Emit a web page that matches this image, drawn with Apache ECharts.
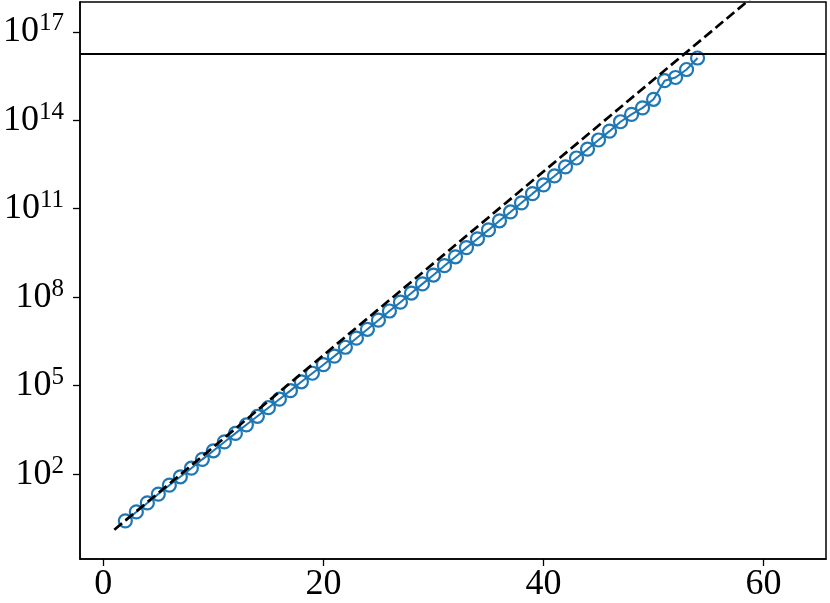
<!DOCTYPE html>
<html>
<head>
<meta charset="utf-8">
<script src="https://cdn.jsdelivr.net/npm/echarts@6/dist/echarts.min.js"></script>
<style>
html,body{margin:0;padding:0;background:#fff;}
#chart{width:830px;height:603px;}
</style>
</head>
<body>
<div id="chart"></div>
<script>
// x positions of the blue series
const nValues = [2,3,4,5,6,7,8,9,10,11,12,13,14,15,16,17,18,19,20,21,22,23,24,25,26,27,28,
  29,30,31,32,33,34,35,36,37,38,39,40,41,42,43,44,45,46,47,48,49,50,51,52,53,54];
// values of the blue series
const seriesValues = [2.6,5.2,10.5,21,42,81,158,316,617,1230,2400,4680,9120,1.78e4,3.47e4,6.76e4,
  1.35e5,2.63e5,5.13e5,1.0e6,2.0e6,4.07e6,8.13e6,1.66e7,3.39e7,6.76e7,1.38e8,2.82e8,5.62e8,
  1.17e9,2.34e9,4.79e9,9.55e9,1.91e10,3.89e10,7.76e10,1.58e11,3.24e11,6.46e11,1.29e12,2.63e12,
  5.25e12,1.05e13,2.14e13,4.27e13,8.9e13,1.58e14,2.63e14,5.13e14,2.19e15,2.82e15,5.25e15,1.29e16];
// dashed reference line end points
const dashedX = [1, 62];
const dashedValues = [1.3, 1.3e19];
// horizontal limit line
const limitValue = 1.8e16;
// ticks
const xTicks = [0, 20, 40, 60];
const yTickExponents = [2, 5, 8, 11, 14, 17];

const lg = v => Math.log10(v);
const blueData = nValues.map((n, i) => [n, lg(seriesValues[i])]);
const dashData = dashedX.map((x, i) => [x, lg(dashedValues[i])]);

const FONT = '"Liberation Serif", "DejaVu Serif", serif';
const chart = echarts.init(document.getElementById('chart'), null, {renderer: 'canvas'});
chart.setOption({
  animation: false,
  backgroundColor: '#fff',
  grid: {left: 80, right: 4, top: 2, bottom: 44, show: true, borderColor: '#000', borderWidth: 1.5, backgroundColor: 'transparent'},
  xAxis: {
    type: 'value', min: -2.12, max: 65.67,
    axisLine: {show: true, onZero: false, lineStyle: {color: '#000', width: 1.5}},
    axisTick: {show: true, length: 7, customValues: xTicks, lineStyle: {color: '#000', width: 1.3}},
    axisLabel: {customValues: xTicks, margin: 8, color: '#000', fontFamily: FONT, fontSize: 36},
    splitLine: {show: false}
  },
  yAxis: {
    type: 'value', min: -0.88, max: 18.01,
    axisLine: {show: true, onZero: false, lineStyle: {color: '#000', width: 1.5}},
    axisTick: {show: true, length: 7, customValues: yTickExponents, lineStyle: {color: '#000', width: 1.3}},
    axisLabel: {
      customValues: yTickExponents, margin: 16, color: '#000',
      formatter: v => '{b|10}{s|' + v + '}',
      rich: {
        b: {fontFamily: FONT, fontSize: 36, color: '#000'},
        s: {fontFamily: FONT, fontSize: 25, color: '#000', padding: [0, 0, 16, 0]}
      }
    },
    splitLine: {show: false}
  },
  series: [
    {
      type: 'line', data: blueData, z: 2,
      symbol: 'circle', symbolSize: 13,
      itemStyle: {color: 'rgba(0,0,0,0)', borderColor: '#1f77b4', borderWidth: 2.2},
      lineStyle: {color: '#1f77b4', width: 2},
      markLine: {
        silent: true, symbol: 'none', label: {show: false},
        lineStyle: {color: '#000', width: 2, type: 'solid'},
        data: [{yAxis: lg(limitValue)}]
      }
    },
    {
      type: 'line', data: dashData, z: 3, symbol: 'none', clip: true,
      lineStyle: {color: '#000', width: 2.7, type: [10, 4.5]}
    }
  ]
});
</script>
</body>
</html>
